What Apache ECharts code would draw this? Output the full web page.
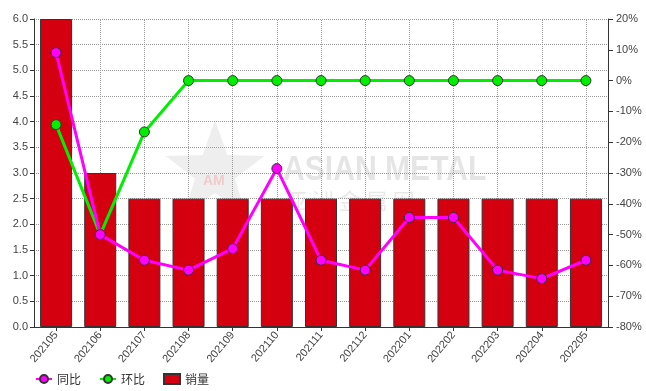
<!DOCTYPE html>
<html>
<head>
<meta charset="utf-8">
<script src="https://cdn.jsdelivr.net/npm/echarts@6/dist/echarts.min.js"></script>
<style>
html,body{margin:0;padding:0;background:#fff;}
#chart{width:646px;height:391px;}
</style>
</head>
<body>
<div id="chart"></div>
<script>
// Monthly sales with year-on-year and month-on-month change
const months = ['202105','202106','202107','202108','202109','202110','202111','202112','202201','202202','202203','202204','202205'];
const sales = [6.0, 3.0, 2.5, 2.5, 2.5, 2.5, 2.5, 2.5, 2.5, 2.5, 2.5, 2.5, 2.5];
const yoy = [9.09, -50.0, -58.33, -61.54, -54.55, -28.57, -58.33, -61.54, -44.44, -44.44, -61.54, -64.29, -58.33];
const mom = [-14.29, -50.0, -16.67, 0, 0, 0, 0, 0, 0, 0, 0, 0, 0];

const chart = echarts.init(document.getElementById('chart'));
const font = 'Liberation Sans, Arial, sans-serif';

// star-shaped logo points for the background mark
function starPoints(cx, cy, R, r) {
  const pts = [];
  for (let i = 0; i < 10; i++) {
    const a = -Math.PI / 2 + i * Math.PI / 5;
    const rad = i % 2 === 0 ? R : r;
    pts.push([cx + rad * Math.cos(a), cy + rad * Math.sin(a)]);
  }
  return pts;
}

chart.setOption({
  animation: false,
  textStyle: { fontFamily: font },
  grid: { left: 34, right: 38, top: 19, bottom: 64 },
  graphic: [
    { type: 'polygon', z: 0, silent: true, shape: { points: starPoints(215, 172, 52, 21) },
      style: { fill: 'rgba(200,200,200,0.3)' } },
    { type: 'text', z: 0, silent: true, left: 203, top: 174,
      style: { text: 'AM', fill: 'rgba(240,150,150,0.4)', font: 'bold 14px ' + font } },
    { type: 'text', z: 0, silent: true, left: 283, top: 153, scaleX: 0.86,
      style: { text: 'ASIAN METAL', fill: 'rgba(190,190,190,0.4)', font: 'bold 35px ' + font } },
    { type: 'text', z: 0, silent: true, left: 285, top: 190,
      style: { text: '亚 洲 金 属 网', fill: 'rgba(190,190,190,0.35)', font: '22px Noto Sans CJK SC' } }
  ],
  legend: {
    left: 30, top: 368, itemGap: 18, itemWidth: 16, itemHeight: 10,
    textStyle: { fontSize: 12, color: '#333', fontFamily: 'Noto Sans CJK SC' },
    data: [
      { name: '同比' },
      { name: '环比' },
      { name: '销量', icon: 'rect' }
    ]
  },
  xAxis: {
    type: 'category',
    data: months,
    axisLine: { show: true, lineStyle: { color: '#333' } },
    axisTick: { show: true, alignWithLabel: true, length: 4, lineStyle: { color: '#333' } },
    axisLabel: { rotate: 50, fontSize: 11, color: '#444', margin: 6 },
    splitLine: { show: false }
  },
  yAxis: [
    {
      type: 'value', min: 0, max: 6, interval: 0.5,
      axisLine: { show: true, lineStyle: { color: '#333' } },
      axisTick: { show: true, length: 4, lineStyle: { color: '#333' } },
      axisLabel: { fontSize: 11, color: '#444', margin: 6, formatter: v => v.toFixed(1) },
      splitLine: { show: true, lineStyle: { type: 'dotted', color: '#999' } }
    },
    {
      type: 'value', min: -80, max: 20, interval: 10,
      axisLine: { show: true, lineStyle: { color: '#333' } },
      axisTick: { show: true, length: 5, lineStyle: { color: '#333' } },
      axisLabel: { fontSize: 11, color: '#444', margin: 8, formatter: '{value}%' },
      splitLine: { show: false }
    }
  ],
  series: [
    {
      // vertical dotted grid through the centre of each month, kept behind the bars
      name: 'grid', type: 'line', data: [], z: 1, silent: true,
      markLine: {
        z: 1, silent: true, symbol: ['none', 'none'], label: { show: false },
        emphasis: { disabled: true },
        lineStyle: { type: 'dotted', color: '#999', width: 1 },
        data: months.map(m => ({ xAxis: m }))
      }
    },
    {
      name: '销量', type: 'bar', data: sales, barWidth: 32, z: 2,
      itemStyle: { color: '#d40010', borderColor: '#333', borderWidth: 1 }
    },
    {
      name: '同比', type: 'line', yAxisIndex: 1, data: yoy, z: 4,
      symbol: 'circle', symbolSize: 10,
      lineStyle: { color: '#ff00ff', width: 3 },
      itemStyle: { color: '#ff00ff', borderColor: '#333', borderWidth: 1 }
    },
    {
      name: '环比', type: 'line', yAxisIndex: 1, data: mom, z: 3,
      symbol: 'circle', symbolSize: 10,
      lineStyle: { color: '#00ee00', width: 3 },
      itemStyle: { color: '#00ee00', borderColor: '#333', borderWidth: 1 }
    }
  ]
});
</script>
</body>
</html>
